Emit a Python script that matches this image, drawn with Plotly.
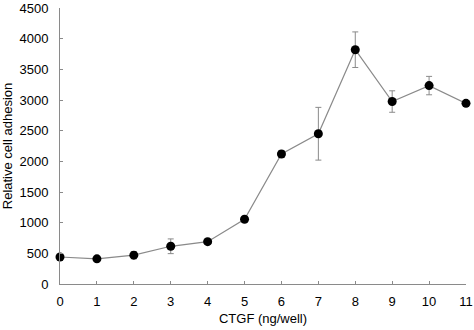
import plotly.graph_objects as go

ctgf = [0, 1, 2, 3, 4, 5, 6, 7, 8, 9, 10, 11]
adhesion = [440, 410, 470, 615, 690, 1055, 2120, 2450, 3820, 2975, 3235, 2945]
err = [40, 40, 60, 120, 30, 30, 55, 430, 290, 175, 150, 50]
x_ticks = list(range(0, 12))
y_ticks = list(range(0, 4501, 500))

fig = go.Figure()
fig.add_trace(go.Scatter(
    x=ctgf, y=adhesion, mode="lines+markers",
    line=dict(color="#8a8a8a", width=1.2),
    marker=dict(color="black", size=9),
    error_y=dict(type="data", array=err, visible=True, color="#8a8a8a", thickness=1, width=3),
    cliponaxis=False, showlegend=False,
))

fig.update_layout(
    width=474, height=330,
    margin=dict(l=60, r=8, t=8, b=46),
    plot_bgcolor="white", paper_bgcolor="white",
    font=dict(family="Liberation Sans, Arial, sans-serif", size=13, color="black"),
    xaxis=dict(
        range=[0, 11], tickvals=x_ticks, ticks="inside", ticklen=3, tickcolor="#8a8a8a",
        showline=True, linecolor="#8a8a8a", linewidth=1, showgrid=False, zeroline=False,
        ticklabeloverflow="allow", ticklabelstandoff=5, automargin=False,
        title=dict(text="CTGF (ng/well)", standoff=6, font=dict(size=13)),
        tickfont=dict(size=13),
    ),
    yaxis=dict(
        range=[0, 4500], tickvals=y_ticks, ticks="inside", ticklen=3, tickcolor="#8a8a8a",
        showline=True, linecolor="#8a8a8a", linewidth=1, showgrid=False, zeroline=False,
        ticklabeloverflow="allow", ticklabelstandoff=8, automargin=False,
        title=dict(text="Relative cell adhesion", standoff=4, font=dict(size=13)),
        tickfont=dict(size=13),
    ),
)

fig.write_html("out.html")
